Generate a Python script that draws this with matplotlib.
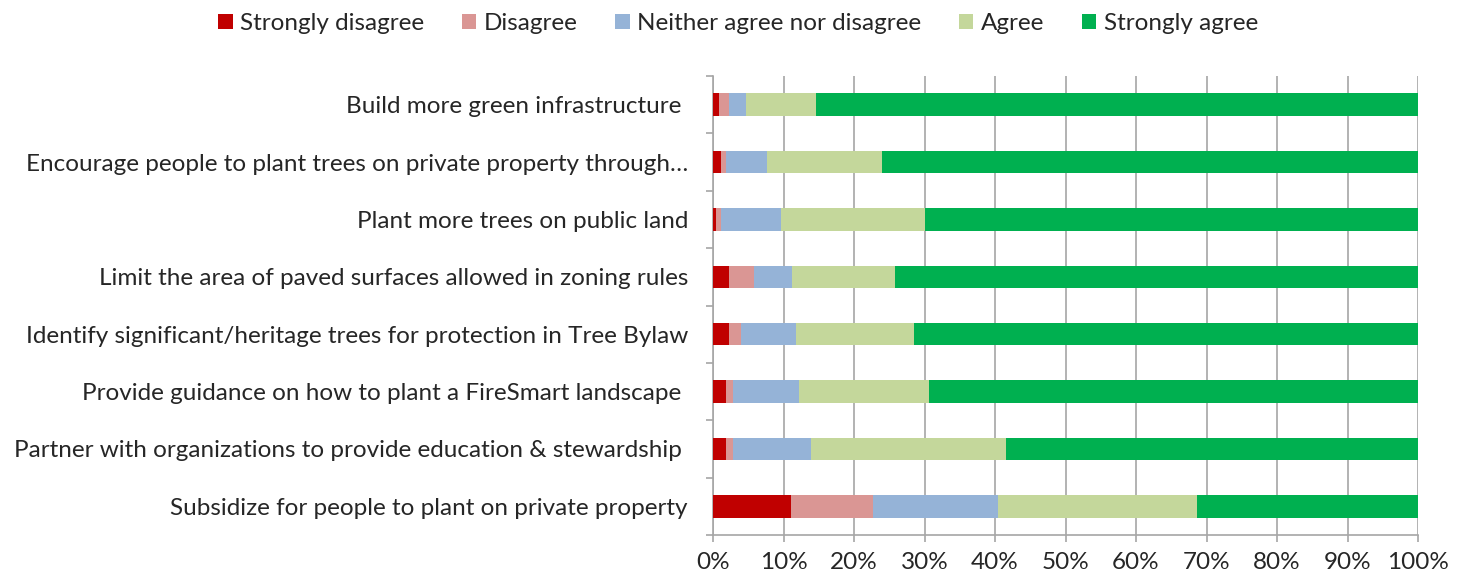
import matplotlib.pyplot as plt
import numpy as np

plt.rcParams['font.family'] = ['Lato', 'DejaVu Sans']

categories = ['Build more green infrastructure ',
              'Encourage people to plant trees on private property through…',
              'Plant more trees on public land',
              'Limit the area of paved surfaces allowed in zoning rules',
              'Identify significant/heritage trees for protection in Tree Bylaw',
              'Provide guidance on how to plant a FireSmart landscape ',
              'Partner with organizations to provide education & stewardship ',
              'Subsidize for people to plant on private property']

strongly_disagree = [0.8, 1.1, 0.4, 2.3, 2.3, 1.9, 1.9, 11.1]
disagree = [1.5, 0.7, 0.8, 3.5, 1.7, 1.0, 1.0, 11.6]
neither = [2.4, 5.9, 8.4, 5.4, 7.8, 9.3, 11.0, 17.7]
agree = [9.9, 16.3, 20.4, 14.6, 16.7, 18.5, 27.7, 28.3]
strongly_agree = [100 - a - b - c - d for a, b, c, d in
                  zip(strongly_disagree, disagree, neither, agree)]

series = [strongly_disagree, disagree, neither, agree, strongly_agree]
labels = ['Strongly disagree', 'Disagree', 'Neither agree nor disagree',
          'Agree', 'Strongly agree']
colors = ['#C00000', '#DA9694', '#95B3D7', '#C4D79B', '#00B050']

fig = plt.figure(figsize=(14.66, 5.8), dpi=100)
ax = fig.add_axes([713 / 1466, 1 - 535 / 580, 705 / 1466, 459 / 580])

y = np.arange(len(categories))
left = np.zeros(len(categories))
for vals, lab, col in zip(series, labels, colors):
    ax.barh(y, vals, left=left, height=0.39, color=col, label=lab, zorder=3)
    left += np.array(vals)

ax.set_ylim(len(categories) - 0.5, -0.5)
ax.set_xlim(0, 100)
ax.set_xticks(np.arange(0, 101, 10))
ax.set_xticklabels([f'{v}%' for v in range(0, 101, 10)], fontsize=17.5, color='#262626')
ax.set_yticks(y)
ax.set_yticklabels(categories, fontsize=17.5, color='#262626')
ax.set_yticks(np.arange(-0.5, len(categories), 1), minor=True)
ax.tick_params(axis='y', which='major', length=0, pad=18)
ax.tick_params(axis='y', which='minor', length=5, color='#A6A6A6', width=1.2)
ax.tick_params(axis='x', length=5, color='#A6A6A6', width=1.2, pad=7)
ax.grid(axis='x', color='#A6A6A6', linewidth=1.2, zorder=0)

for s in ['top', 'right']:
    ax.spines[s].set_visible(False)
for s in ['left', 'bottom']:
    ax.spines[s].set_color('#A6A6A6')
    ax.spines[s].set_linewidth(1.2)

fig.legend(loc='upper center', bbox_to_anchor=(738 / 1466, 1.015), ncol=5,
           frameon=False, fontsize=17.5, handlelength=0.6, handleheight=0.6,
           handletextpad=0.3, columnspacing=1.55, labelcolor='#262626')

fig.savefig('out.png', dpi=100)
